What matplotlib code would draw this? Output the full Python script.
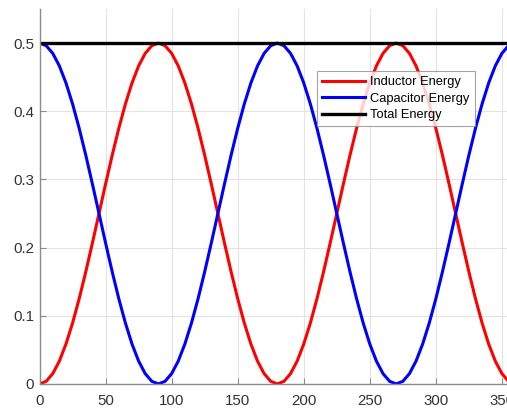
import matplotlib
matplotlib.use("Agg")
import matplotlib.pyplot as plt

# phase angle in degrees, sampled every 5 degrees over one full cycle
angle = list(range(0, 365, 5))

inductor = [
    0.0, 0.0038, 0.0151, 0.0335, 0.0585, 0.0893, 0.125, 0.1645, 0.2066, 0.25,
    0.2934, 0.3355, 0.375, 0.4107, 0.4415, 0.4665, 0.4849, 0.4962, 0.5,
    0.4962, 0.4849, 0.4665, 0.4415, 0.4107, 0.375, 0.3355, 0.2934, 0.25,
    0.2066, 0.1645, 0.125, 0.0893, 0.0585, 0.0335, 0.0151, 0.0038, 0.0,
    0.0038, 0.0151, 0.0335, 0.0585, 0.0893, 0.125, 0.1645, 0.2066, 0.25,
    0.2934, 0.3355, 0.375, 0.4107, 0.4415, 0.4665, 0.4849, 0.4962, 0.5,
    0.4962, 0.4849, 0.4665, 0.4415, 0.4107, 0.375, 0.3355, 0.2934, 0.25,
    0.2066, 0.1645, 0.125, 0.0893, 0.0585, 0.0335, 0.0151, 0.0038, 0.0,
]

capacitor = [
    0.5, 0.4962, 0.4849, 0.4665, 0.4415, 0.4107, 0.375, 0.3355, 0.2934, 0.25,
    0.2066, 0.1645, 0.125, 0.0893, 0.0585, 0.0335, 0.0151, 0.0038, 0.0,
    0.0038, 0.0151, 0.0335, 0.0585, 0.0893, 0.125, 0.1645, 0.2066, 0.25,
    0.2934, 0.3355, 0.375, 0.4107, 0.4415, 0.4665, 0.4849, 0.4962, 0.5,
    0.4962, 0.4849, 0.4665, 0.4415, 0.4107, 0.375, 0.3355, 0.2934, 0.25,
    0.2066, 0.1645, 0.125, 0.0893, 0.0585, 0.0335, 0.0151, 0.0038, 0.0,
    0.0038, 0.0151, 0.0335, 0.0585, 0.0893, 0.125, 0.1645, 0.2066, 0.25,
    0.2934, 0.3355, 0.375, 0.4107, 0.4415, 0.4665, 0.4849, 0.4962, 0.5,
]

total = [0.5] * len(angle)

xticks = [0, 50, 100, 150, 200, 250, 300, 350]
yticks = [0, 0.1, 0.2, 0.3, 0.4, 0.5]

plt.rcParams['font.family'] = ['Liberation Sans', 'DejaVu Sans']

fig = plt.figure(figsize=(5.07, 4.08), dpi=100)
# axes run a little past the right edge of the figure
ax = fig.add_axes([0.078, 0.059, 0.938, 0.919])

ax.plot(angle, inductor, color='red', lw=2.2, label='Inductor Energy')
ax.plot(angle, capacitor, color='blue', lw=2.2, label='Capacitor Energy')
ax.plot(angle, total, color='black', lw=2.4, label='Total Energy')

ax.set_xlim(0, 360)
ax.set_ylim(0, 0.55)
ax.set_xticks(xticks)
ax.set_yticks(yticks)
ax.set_yticklabels(['0', '0.1', '0.2', '0.3', '0.4', '0.5'])

ax.grid(True, color='#e3e3e3', lw=0.8)
ax.set_axisbelow(True)
for side in ['top', 'right']:
    ax.spines[side].set_visible(False)
for side in ['left', 'bottom']:
    ax.spines[side].set_color('#8c8c8c')
    ax.spines[side].set_linewidth(1.0)
ax.tick_params(direction='in', length=4, width=0.8, color='#8c8c8c',
               labelcolor='#333333', labelsize=10.8)
ax.tick_params(axis='y', pad=4)
ax.tick_params(axis='x', pad=7)

leg = ax.legend(loc='upper left', bbox_to_anchor=(0.5836, 0.834),
                fontsize=9.3, frameon=True, fancybox=False,
                handlelength=3.3, handletextpad=0.4, borderpad=0.4,
                labelspacing=0.33, borderaxespad=0)
leg.get_frame().set_edgecolor('#8c8c8c')
leg.get_frame().set_linewidth(0.8)

plt.savefig('out.png', dpi=100)
